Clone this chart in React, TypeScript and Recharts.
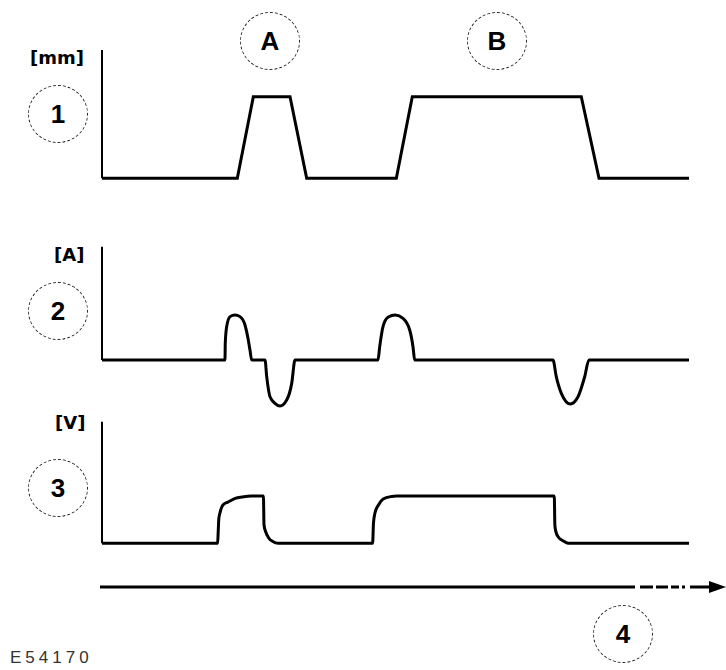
import React from 'react';
import { LineChart, Line, XAxis, YAxis, ReferenceLine } from 'recharts';

// time base shared by all three traces (0 = vertical axis, 100 = end of trace)
const liftTime = [0, 23.05, 25.78, 32.03, 34.87, 50.14, 52.86, 81.65, 84.67, 100];
const liftMm = [0, 0, 6.36, 6.36, 0, 0, 6.36, 6.36, 0, 0];

const currentTime = [
  0, 20.95, 21.0, 21.24, 21.81, 22.66, 23.51, 24.36, 24.92, 25.21, 25.5,
  27.77, 28.06, 28.62, 29.47, 30.32, 31.46, 32.32, 32.88,
  47.02, 47.31, 47.87, 48.72, 49.97, 51.28, 52.42, 52.98, 53.27,
  76.83, 77.39, 78.25, 79.78, 81.09, 82.23, 82.96, 100,
];
const currentAmp = [
  0, 0, 1.5, 2.95, 3.83, 3.98, 3.83, 3.09, 1.77, 0.88, 0,
  0, -1.47, -3.24, -3.82, -4.06, -3.53, -2.06, 0,
  0, 1.18, 2.94, 3.77, 3.97, 3.68, 2.65, 1.18, 0,
  0, -1.47, -2.94, -3.88, -3.24, -1.47, 0, 0,
];

const voltageTime = [
  0, 19.7, 19.8, 19.9, 20.1, 20.6, 21.5, 22.7, 23.9, 25.5, 27.5, 27.6, 27.9, 28.4, 29.1, 30.0,
  46.1, 46.25, 46.5, 47.1, 47.9, 49.3, 50.2, 77.05, 77.15, 77.3, 77.7, 78.6, 79.4, 100,
];
const voltageV = [
  0, 0, 1.0, 2.0, 2.5, 3.15, 3.4, 3.7, 3.8, 3.88, 3.9, 1.5, 0.93, 0.44, 0.15, 0,
  0, 1.67, 2.49, 3.15, 3.64, 3.85, 3.89, 3.89, 1.5, 1.0, 0.54, 0.19, 0, 0,
];

const unitLabels = ['[mm]', '[A]', '[V]'];
const traceLabels = ['1', '2', '3'];
const eventLabels = ['A', 'B'];
const timeLabel = '4';
const figureId = 'E54170';

const zip = (t: number[], v: number[]) => t.map((x, i) => ({ t: x, v: v[i] }));

interface PanelProps {
  top: number;
  height: number;
  margin: { top: number; right: number; bottom: number; left: number };
  yDomain: [number, number];
  axisTop: number;
  curve: 'linear' | 'monotone';
  data: { t: number; v: number }[];
}

const Panel: React.FC<PanelProps> = ({ top, height, margin, yDomain, axisTop, curve, data }) => (
  <div style={{ position: 'absolute', left: 0, top }}>
    <LineChart width={726} height={height} margin={margin}>
      <XAxis type="number" dataKey="t" domain={[0, 100]} hide />
      <YAxis type="number" domain={yDomain} hide />
      <ReferenceLine
        segment={[{ x: 0, y: 0 }, { x: 0, y: axisTop }]}
        stroke="#000"
        strokeWidth={2}
      />
      <Line
        data={data}
        dataKey="v"
        type={curve}
        stroke="#000"
        strokeWidth={3}
        dot={false}
        activeDot={false}
        isAnimationActive={false}
      />
    </LineChart>
  </div>
);

const Circle: React.FC<{ cx: number; cy: number; text: string }> = ({ cx, cy, text }) => (
  <div
    style={{
      position: 'absolute',
      left: cx - 30,
      top: cy - 29,
      width: 58,
      height: 56,
      border: '1px dashed #222',
      borderRadius: '50%',
      display: 'flex',
      alignItems: 'center',
      justifyContent: 'center',
      fontSize: 26,
      fontWeight: 700,
    }}
  >
    {text}
  </div>
);

const unitStyle: React.CSSProperties = {
  position: 'absolute',
  fontFamily: '"DejaVu Sans", sans-serif',
  fontSize: 18,
  lineHeight: '18px',
  fontWeight: 700,
};

export default function App() {
  return (
    <div
      style={{
        position: 'absolute',
        left: 0,
        top: 0,
        width: 726,
        height: 670,
        overflow: 'hidden',
        background: '#fff',
        fontFamily: '"Liberation Sans", Arial, sans-serif',
        color: '#000',
      }}
    >
      <Panel
        top={0}
        height={200}
        margin={{ top: 50, right: 37, bottom: 21.7, left: 102 }}
        yDomain={[0, 10]}
        axisTop={10}
        curve="linear"
        data={zip(liftTime, liftMm)}
      />
      <Panel
        top={200}
        height={230}
        margin={{ top: 46.7, right: 37, bottom: 13.3, left: 102 }}
        yDomain={[-5, 10]}
        axisTop={10}
        curve="monotone"
        data={zip(currentTime, currentAmp)}
      />
      <Panel
        top={400}
        height={160}
        margin={{ top: 21.7, right: 37, bottom: 16.7, left: 102 }}
        yDomain={[0, 10]}
        axisTop={10}
        curve="monotone"
        data={zip(voltageTime, voltageV)}
      />

      {/* time axis */}
      <svg width={726} height={670} style={{ position: 'absolute', left: 0, top: 0, pointerEvents: 'none' }}>
        <line x1={100} y1={587} x2={635} y2={587} stroke="#000" strokeWidth={3} />
        <line x1={640} y1={587} x2={709} y2={587} stroke="#000" strokeWidth={3} strokeDasharray="13 3 12 3 8 3 3 5 19" />
        <polygon points="709,581 726,587 709,593" fill="#000" />
      </svg>

      <div style={{ ...unitStyle, left: 30, top: 49 }}>{unitLabels[0]}</div>
      <div style={{ ...unitStyle, left: 54, top: 246 }}>{unitLabels[1]}</div>
      <div style={{ ...unitStyle, left: 55, top: 414 }}>{unitLabels[2]}</div>

      <Circle cx={58} cy={114} text={traceLabels[0]} />
      <Circle cx={58} cy={311} text={traceLabels[1]} />
      <Circle cx={58} cy={488} text={traceLabels[2]} />
      <Circle cx={270} cy={41} text={eventLabels[0]} />
      <Circle cx={497} cy={41} text={eventLabels[1]} />
      <Circle cx={623} cy={634} text={timeLabel} />

      <div
        style={{
          position: 'absolute',
          left: 10,
          top: 649,
          fontSize: 17,
          lineHeight: '18px',
          letterSpacing: 4,
          color: '#333',
        }}
      >
        {figureId}
      </div>
    </div>
  );
}
